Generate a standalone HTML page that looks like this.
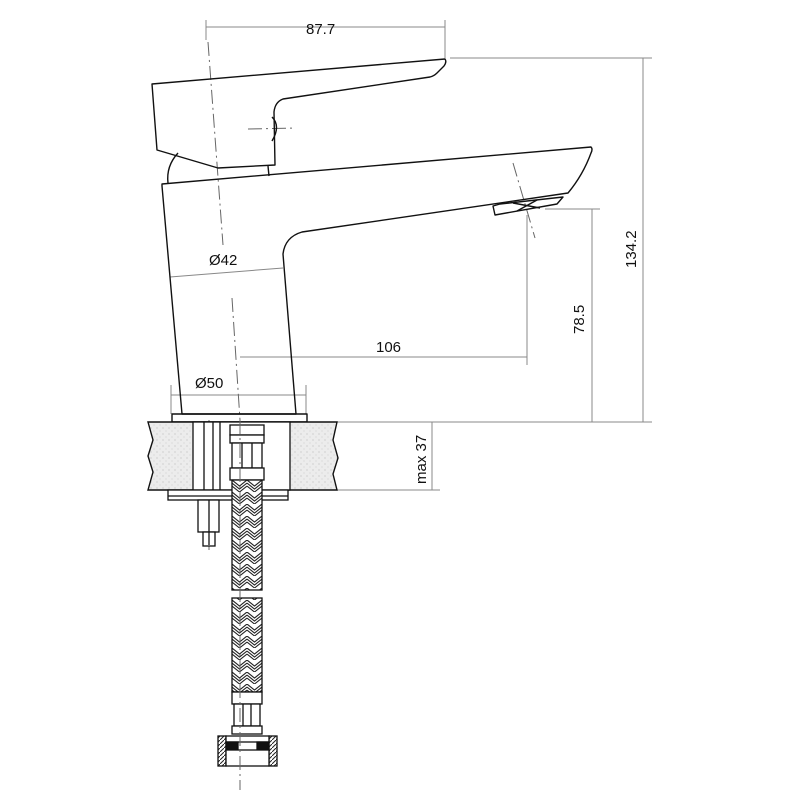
<!DOCTYPE html>
<html><head><meta charset="utf-8"><style>html,body{margin:0;padding:0;background:#fff}svg{display:block}</style></head>
<body>
<svg width="800" height="800" viewBox="0 0 800 800" xmlns="http://www.w3.org/2000/svg" font-family="Liberation Sans, sans-serif">
<defs>
<pattern id="braid" x="232" y="0" width="15" height="12" patternUnits="userSpaceOnUse">
<rect width="15" height="12" fill="#fff"/>
<path d="M0 0 L7.5 6 L15 0 M0 6 L7.5 12 L15 6 M0 3 L7.5 9 L15 3" stroke="#222" stroke-width="1.1" fill="none"/>
</pattern>
<pattern id="speck" width="6" height="6" patternUnits="userSpaceOnUse">
<rect width="6" height="6" fill="#ececec"/>
<circle cx="1" cy="2" r="0.6" fill="#bbb"/><circle cx="4" cy="5" r="0.5" fill="#c4c4c4"/>
</pattern>
<pattern id="hatch" width="4" height="4" patternUnits="userSpaceOnUse">
<rect width="4" height="4" fill="#fff"/><path d="M0 4 L4 0" stroke="#222" stroke-width="1"/>
</pattern>
</defs>
<g stroke="#888" stroke-width="1" fill="none">
<line x1="206" y1="27" x2="445" y2="27"/>
<line x1="206" y1="40" x2="206" y2="20"/>
<line x1="445" y1="58" x2="445" y2="20"/>
<line x1="450" y1="58" x2="652" y2="58"/>
<line x1="330" y1="422" x2="652" y2="422"/>
<line x1="643" y1="58" x2="643" y2="422"/>
<line x1="545" y1="209" x2="600" y2="209"/>
<line x1="592" y1="209" x2="592" y2="422"/>
<line x1="240" y1="357" x2="527" y2="357"/>
<line x1="527" y1="215" x2="527" y2="365"/>
<line x1="290" y1="490" x2="440" y2="490"/>
<line x1="432" y1="422" x2="432" y2="490"/>
<line x1="171" y1="395" x2="306" y2="395"/>
<line x1="171" y1="385" x2="171" y2="414"/>
<line x1="306" y1="385" x2="306" y2="414"/>
<line x1="170" y1="277" x2="283" y2="268"/>
</g>
<g stroke="#666" stroke-width="1" fill="none" stroke-dasharray="14 4 2 4">
<line x1="208" y1="42" x2="223" y2="245"/>
<line x1="232" y1="298" x2="240" y2="420"/>
<line x1="209" y1="420" x2="209" y2="550"/>
<line x1="513" y1="163" x2="535" y2="238"/>
<line x1="248" y1="129" x2="295" y2="128"/>
</g>
<g stroke="#111" stroke-width="1.4" fill="none" stroke-linejoin="round">
<path d="M152 84 L445 59 Q447 62 444 66 L437 73 Q434 76 430 77 L283 99 Q275 102 274 112 L275 165 L218 168 L157 150 Z"/>
<path d="M272 117 Q281 126 272 141"/>
<line x1="268" y1="166" x2="269" y2="176"/>
<path d="M168 183 Q166 166 178 153"/>
<path d="M162 184 L591 147 Q593 149 591 153 Q583 175 568 193 L302 232 Q285 237 283 254 L296 414 L182 414 L162 186 Z"/>
<path d="M493 206 L495 215 L557 204 L563 197 L500 204 Z"/>
<line x1="513" y1="203" x2="540" y2="208"/>
<line x1="517" y1="211" x2="537" y2="200"/>
<rect x="172" y="414" width="135" height="8"/>
</g>
<path d="M148 422 L337 422 L333 440 L338 458 L333 474 L337 490 L148 490 L153 472 L148 456 L153 440 Z" fill="url(#speck)" stroke="#111" stroke-width="1.4"/>
<rect x="193" y="422" width="97" height="68" fill="#fff" stroke="#111" stroke-width="1.3"/>
<g stroke="#111" stroke-width="1.3" fill="#fff">
<line x1="204" y1="422" x2="204" y2="490"/>
<line x1="213" y1="422" x2="213" y2="490"/>
<line x1="220" y1="422" x2="220" y2="490"/>
<rect x="168" y="490" width="120" height="10"/>
<line x1="168" y1="496" x2="288" y2="496"/>
<rect x="198" y="500" width="21" height="32"/>
<rect x="203" y="532" width="12" height="14"/>
<line x1="209" y1="500" x2="209" y2="545"/>
<rect x="230" y="425" width="34" height="10"/>
<rect x="230" y="435" width="34" height="8"/>
<rect x="232" y="443" width="30" height="25"/>
<line x1="242" y1="443" x2="242" y2="468"/><line x1="252" y1="443" x2="252" y2="468"/>
<rect x="230" y="468" width="34" height="12"/>
</g>
<g stroke="#111" stroke-width="1.3">
<rect x="232" y="480" width="30" height="110" fill="url(#braid)"/>
<rect x="232" y="598" width="30" height="94" fill="url(#braid)"/>
</g>
<g stroke="#111" stroke-width="1.3" fill="#fff">
<rect x="232" y="692" width="30" height="12"/>
<rect x="234" y="704" width="26" height="22"/>
<line x1="243" y1="704" x2="243" y2="726"/><line x1="251" y1="704" x2="251" y2="726"/>
<rect x="232" y="726" width="30" height="8"/>
<rect x="218" y="736" width="8" height="30" fill="url(#hatch)"/>
<rect x="269" y="736" width="8" height="30" fill="url(#hatch)"/>
<rect x="226" y="736" width="43" height="6"/>
<rect x="226" y="742" width="12" height="8" fill="#111"/>
<rect x="257" y="742" width="12" height="8" fill="#111"/>
<rect x="226" y="750" width="43" height="16"/>
</g>
<line x1="240" y1="420" x2="240" y2="790" stroke="#666" stroke-width="1" stroke-dasharray="14 4 2 4"/>
<g fill="#111" font-size="15">
<text x="306" y="34">87.7</text>
<text x="376" y="352">106</text>
<text x="209" y="265">Ø42</text>
<text x="195" y="388">Ø50</text>
<text transform="translate(636,268) rotate(-90)">134.2</text>
<text transform="translate(584,334) rotate(-90)">78.5</text>
<text transform="translate(426,484) rotate(-90)">max 37</text>
</g>
</svg>
</body></html>
